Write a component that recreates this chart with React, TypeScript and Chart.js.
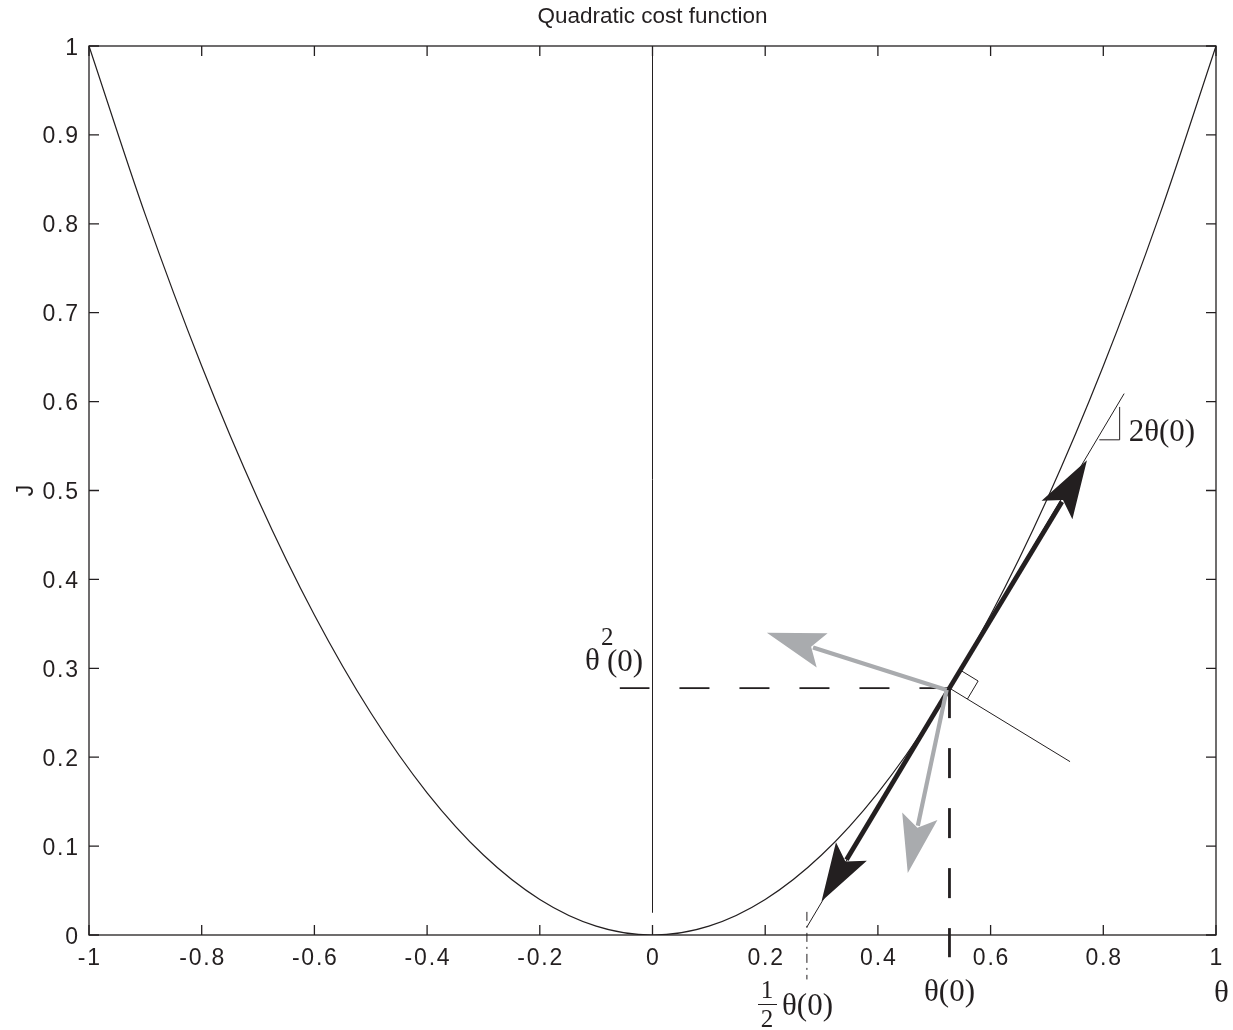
import React, { useEffect, useRef } from "react";
import { Chart, registerables } from "chart.js";

Chart.register(...registerables);

// ---- data ----
const thetaGrid = [-1, -0.9, -0.8, -0.7, -0.6, -0.5, -0.4, -0.3, -0.2, -0.1, 0, 0.1, 0.2, 0.3, 0.4, 0.5, 0.6, 0.7, 0.8, 0.9, 1];
const costValues = [1, 0.81, 0.64, 0.49, 0.36, 0.25, 0.16, 0.09, 0.04, 0.01, 0, 0.01, 0.04, 0.09, 0.16, 0.25, 0.36, 0.49, 0.64, 0.81, 1];

const xTickValues = [-1, -0.8, -0.6, -0.4, -0.2, 0, 0.2, 0.4, 0.6, 0.8, 1];
const xTickLabels = ["-1", "-0.8", "-0.6", "-0.4", "-0.2", "0", "0.2", "0.4", "0.6", "0.8", "1"];
const yTickValues = [0, 0.1, 0.2, 0.3, 0.4, 0.5, 0.6, 0.7, 0.8, 0.9, 1];
const yTickLabels = ["0", "0.1", "0.2", "0.3", "0.4", "0.5", "0.6", "0.7", "0.8", "0.9", "1"];

const theta0 = 0.527;
const cost0 = 0.2777;

const axisSegmentX = [0, 0];
const axisSegmentY = [0.025, 1];
const tangentX = [0.274, 0.837];
const tangentY = [0.009, 0.609];
const normalX = [theta0, 0.741];
const normalY = [cost0, 0.195];
const costGuideX = [theta0, -0.058];
const costGuideY = [cost0, cost0];
const thetaGuideX = [theta0, theta0];
const thetaGuideY = [cost0, -0.025];
const halfGuideX = [0.274, 0.274];
const halfGuideY = [0.026, -0.05];
const slopeTriX = [0.793, 0.829, 0.829];
const slopeTriY = [0.557, 0.557, 0.594];

const blackArrowTipsX = [0.771, 0.300];
const blackArrowTipsY = [0.534, 0.038];
const grayArrowTipsX = [0.203, 0.453];
const grayArrowTipsY = [0.340, 0.0697];

const title = "Quadratic cost function";
const xLabel = "θ";
const yLabel = "J";

const INK = "#231f20";
const GRAY = "#a9abae";

const pts = (xs: number[], ys: number[]) => xs.map((x, i) => ({ x, y: ys[i] }));

export default function App() {
  const ref = useRef<HTMLCanvasElement | null>(null);

  useEffect(() => {
    if (!ref.current) return;

    const overlay = {
      id: "overlay",
      afterDatasetsDraw(chart: any) {
        const ctx = chart.ctx as any;
        const xs = chart.scales.x;
        const ys = chart.scales.y;
        const px = (v: number) => xs.getPixelForValue(v);
        const py = (v: number) => ys.getPixelForValue(v);
        const { left, right, top, bottom } = chart.chartArea;

        ctx.save();
        // arrows
        const drawArrow = (bx: number, by: number, tx: number, ty: number, color: string, w: number) => {
          const X0 = px(bx), Y0 = py(by), X1 = px(tx), Y1 = py(ty);
          const len = Math.hypot(X1 - X0, Y1 - Y0);
          const dx = (X1 - X0) / len, dy = (Y1 - Y0) / len;
          const L = 58, W = 18, N = 0.8 * L;
          ctx.strokeStyle = color;
          ctx.lineWidth = w;
          ctx.lineCap = "butt";
          ctx.beginPath();
          ctx.moveTo(X0, Y0);
          ctx.lineTo(X1 - (N + 2) * dx, Y1 - (N + 2) * dy);
          ctx.stroke();
          const pxp = -dy, pyp = dx;
          ctx.fillStyle = color;
          ctx.beginPath();
          ctx.moveTo(X1, Y1);
          ctx.lineTo(X1 - L * dx + W * pxp, Y1 - L * dy + W * pyp);
          ctx.lineTo(X1 - N * dx, Y1 - N * dy);
          ctx.lineTo(X1 - L * dx - W * pxp, Y1 - L * dy - W * pyp);
          ctx.closePath();
          ctx.fill();
        };
        blackArrowTipsX.forEach((tx, i) => drawArrow(theta0, cost0, tx, blackArrowTipsY[i], INK, 4.8));
        grayArrowTipsX.forEach((tx, i) => drawArrow(theta0 - 0.005, cost0 - 0.002, tx, grayArrowTipsY[i], GRAY, 4.2));

        // right-angle marker at theta0
        {
          const P = { x: px(theta0), y: py(cost0) };
          const T = { x: px(tangentX[1]) - px(tangentX[0]), y: py(tangentY[1]) - py(tangentY[0]) };
          const tl = Math.hypot(T.x, T.y);
          const t = { x: T.x / tl, y: T.y / tl };
          const Nv = { x: px(normalX[1]) - P.x, y: py(normalY[1]) - P.y };
          const nl = Math.hypot(Nv.x, Nv.y);
          const n = { x: Nv.x / nl, y: Nv.y / nl };
          const s = 21;
          ctx.strokeStyle = INK;
          ctx.lineWidth = 1;
          ctx.beginPath();
          ctx.moveTo(P.x + s * t.x, P.y + s * t.y);
          ctx.lineTo(P.x + s * t.x + s * n.x, P.y + s * t.y + s * n.y);
          ctx.lineTo(P.x + s * n.x, P.y + s * n.y);
          ctx.stroke();
        }

        // frame
        ctx.strokeStyle = INK;
        ctx.lineWidth = 1.3;
        ctx.strokeRect(left, top, right - left, bottom - top);
        const tk = 10;
        ctx.beginPath();
        xTickValues.forEach((v) => {
          const X = px(v);
          ctx.moveTo(X, bottom); ctx.lineTo(X, bottom - tk);
          ctx.moveTo(X, top); ctx.lineTo(X, top + tk);
        });
        yTickValues.forEach((v) => {
          const Y = py(v);
          ctx.moveTo(left, Y); ctx.lineTo(left + tk, Y);
          ctx.moveTo(right, Y); ctx.lineTo(right - tk, Y);
        });
        ctx.stroke();

        // tick labels
        const sp = 1.8;
        ctx.fillStyle = INK;
        ctx.font = "23px 'Liberation Sans', Arial, sans-serif";
        ctx.letterSpacing = `${sp}px`;
        ctx.textBaseline = "alphabetic";
        ctx.textAlign = "center";
        xTickValues.forEach((v, i) => ctx.fillText(xTickLabels[i], px(v) + sp / 2, bottom + 30));
        ctx.textAlign = "right";
        yTickValues.forEach((v, i) => ctx.fillText(yTickLabels[i], left - 11 + sp, py(v) + 8.5));
        ctx.letterSpacing = "0px";

        // title
        ctx.textAlign = "center";
        ctx.font = "22.5px 'Liberation Sans', Arial, sans-serif";
        ctx.fillText(title, (left + right) / 2, 23);

        // y label
        ctx.save();
        ctx.translate(33, (top + bottom) / 2);
        ctx.rotate(-Math.PI / 2);
        ctx.font = "23px 'Liberation Sans', Arial, sans-serif";
        ctx.textAlign = "center";
        ctx.fillText(yLabel, 0, 0);
        ctx.restore();

        // serif annotations
        const serif = (size: number) => `${size}px 'Liberation Serif', 'Times New Roman', serif`;
        ctx.font = serif(31);
        ctx.textAlign = "left";
        ctx.fillText(xLabel, 1214, 1002);
        // theta(0) under axis
        ctx.textAlign = "center";
        ctx.fillText("θ(0)", px(theta0), 1001);
        // 2θ(0)
        ctx.textAlign = "left";
        ctx.fillText("2θ(0)", px(slopeTriX[1]) + 9, py(slopeTriY[0]) + 1);
        // θ^2(0)
        ctx.fillText("θ", 585, 670);
        ctx.font = serif(25);
        ctx.fillText("2", 601, 645);
        ctx.font = serif(31);
        ctx.fillText("(0)", 607, 671);
        // 1/2 θ(0)
        ctx.font = serif(25);
        ctx.textAlign = "center";
        ctx.fillText("1", 767, 998);
        ctx.fillText("2", 767, 1027);
        ctx.lineWidth = 1;
        ctx.beginPath();
        ctx.moveTo(758, 1004.5);
        ctx.lineTo(777, 1004.5);
        ctx.stroke();
        ctx.font = serif(31);
        ctx.textAlign = "left";
        ctx.fillText("θ(0)", 782, 1015);

        ctx.restore();
      },
    };

    const thin = { borderColor: INK, pointRadius: 0, showLine: true, fill: false };

    const chart = new Chart(ref.current, {
      type: "scatter",
      data: {
        datasets: [
          { ...thin, data: pts(thetaGrid, costValues), borderWidth: 1.2, cubicInterpolationMode: "monotone" } as any,
          { ...thin, data: pts(axisSegmentX, axisSegmentY), borderWidth: 1 },
          { ...thin, data: pts(tangentX, tangentY), borderWidth: 1 },
          { ...thin, data: pts(normalX, normalY), borderWidth: 1 },
          { ...thin, data: pts(costGuideX, costGuideY), borderWidth: 1.8, borderDash: [30, 30] },
          { ...thin, data: pts(thetaGuideX, thetaGuideY), borderWidth: 2.8, borderDash: [30, 30], clip: false } as any,
          { ...thin, data: pts(halfGuideX, halfGuideY), borderWidth: 1, borderDash: [9, 5, 2, 5], clip: false } as any,
          { ...thin, data: pts(slopeTriX, slopeTriY), borderWidth: 1 },
        ],
      },
      options: {
        animation: false,
        responsive: false,
        devicePixelRatio: 1,
        layout: { padding: { left: 89, top: 46, right: 17, bottom: 95 } },
        plugins: { legend: { display: false }, title: { display: false }, tooltip: { enabled: false } },
        scales: {
          x: { type: "linear", min: -1, max: 1, display: false },
          y: { type: "linear", min: 0, max: 1, display: false },
        },
        events: [],
      },
      plugins: [overlay],
    });
    return () => chart.destroy();
  }, []);

  return (
    <div style={{ position: "absolute", left: 0, top: 0, width: 1233, height: 1030, background: "#fff" }}>
      <canvas ref={ref} width={1233} height={1030} style={{ display: "block" }} />
    </div>
  );
}
